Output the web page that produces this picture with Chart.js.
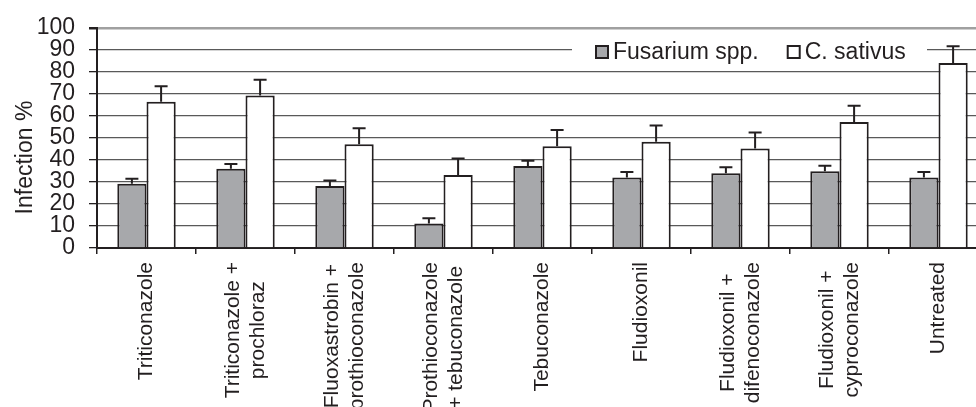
<!DOCTYPE html>
<html>
<head>
<meta charset="utf-8">
<script src="https://cdn.jsdelivr.net/npm/chart.js@4.4.0/dist/chart.umd.min.js"></script>
<style>
  html, body { margin: 0; padding: 0; background: #fff; }
  #wrap { width: 976px; height: 407px; overflow: hidden; }
  #chart { display: block; }
</style>
</head>
<body>
<div id="wrap"><canvas id="chart" width="1000" height="407"></canvas></div>
<script>
// Catégories (traitements)
const categories = [
    'Triticonazole',
    ['Triticonazole +', 'prochloraz'],
    ['Fluoxastrobin +', 'prothioconazole'],
    ['Prothioconazole', '+ tebuconazole'],
    'Tebuconazole',
    'Fludioxonil',
    ['Fludioxonil +', 'difenoconazole'],
    ['Fludioxonil +', 'cyproconazole'],
    'Untreated'
];
const seriesNames = ['Fusarium spp.', 'C. sativus'];
const fusarium = [29.2, 36, 28.1, 11.1, 37.2, 32, 34, 34.9, 32];
const fusariumErr = [2.3, 2.2, 2.5, 2.4, 2.4, 2.5, 2.7, 2.5, 2.5];
const sativus = [66.4, 69.2, 47.1, 33.2, 46.2, 48.3, 45.2, 57.2, 84];
const sativusErr = [7.1, 7.2, 7.3, 7.4, 7.4, 7.3, 7.2, 7.4, 7.6];
const yTicks = [0, 10, 20, 30, 40, 50, 60, 70, 80, 90, 100];

const ink = '#231f20';
const greyFill = '#a7a8ab';
const fontFamily = '"Liberation Sans", Arial, sans-serif';
const errors = [fusariumErr, sativusErr];

// Barres d'erreur (vers le haut uniquement)
const errorBars = {
    id: 'errorBars',
    afterDatasetsDraw(chart) {
        const { ctx } = chart;
        const y = chart.scales.y;
        ctx.save();
        ctx.strokeStyle = ink;
        ctx.lineWidth = 2;
        chart.data.datasets.forEach((ds, di) => {
            chart.getDatasetMeta(di).data.forEach((bar, i) => {
                const top = y.getPixelForValue(ds.data[i] + errors[di][i]);
                ctx.beginPath();
                ctx.moveTo(bar.x, bar.y);
                ctx.lineTo(bar.x, top);
                ctx.moveTo(bar.x - 6.5, top);
                ctx.lineTo(bar.x + 6.5, top);
                ctx.stroke();
            });
        });
        ctx.restore();
    }
};

// Étiquettes de l'axe X, pivotées, lignes centrées
const xLabels = {
    id: 'xLabels',
    afterDraw(chart) {
        const { ctx } = chart;
        const x = chart.scales.x;
        const lineH = 25;
        ctx.save();
        ctx.font = '21px ' + fontFamily;
        ctx.fillStyle = ink;
        ctx.textAlign = 'center';
        ctx.textBaseline = 'middle';
        categories.forEach((lab, i) => {
            const lines = Array.isArray(lab) ? lab : [lab];
            const w = Math.max(...lines.map(l => ctx.measureText(l).width));
            const cx = x.getPixelForValue(i);
            lines.forEach((line, k) => {
                ctx.save();
                ctx.translate(cx + (k - (lines.length - 1) / 2) * lineH, x.top + 14 + w / 2);
                ctx.rotate(-Math.PI / 2);
                ctx.fillText(line, 0, 0);
                ctx.restore();
            });
        });
        ctx.restore();
    }
};

// Titre de l'axe Y + légende dans la zone du graphique
const extras = {
    id: 'extras',
    afterDraw(chart) {
        const { ctx } = chart;
        ctx.save();
        ctx.font = '23px ' + fontFamily;
        ctx.fillStyle = ink;
        ctx.textAlign = 'center';
        ctx.textBaseline = 'alphabetic';
        ctx.translate(32, 157.5);
        ctx.rotate(-Math.PI / 2);
        ctx.fillText('Infection %', 0, 0);
        ctx.restore();

        ctx.save();
        ctx.fillStyle = '#fff';
        ctx.fillRect(572, 35, 355, 27);
        ctx.font = '23px ' + fontFamily;
        ctx.textBaseline = 'middle';
        ctx.textAlign = 'left';
        let px = 596;
        chart.data.datasets.forEach((ds) => {
            ctx.fillStyle = ds.backgroundColor;
            ctx.fillRect(px, 46, 12, 12);
            ctx.strokeStyle = ink;
            ctx.lineWidth = 2;
            ctx.strokeRect(px, 46, 12, 12);
            ctx.fillStyle = ink;
            ctx.fillText(ds.label, px + 17, 52.5);
            px += 17 + ctx.measureText(ds.label).width + 29;
        });
        ctx.restore();
    }
};

new Chart(document.getElementById('chart'), {
    type: 'bar',
    data: {
        labels: categories,
        datasets: [
            { label: seriesNames[0], data: fusarium, backgroundColor: greyFill, borderColor: ink, borderWidth: 2 },
            { label: seriesNames[1], data: sativus, backgroundColor: '#ffffff', borderColor: ink, borderWidth: 2 }
        ]
    },
    options: {
        responsive: false,
        animation: false,
        layout: { padding: { top: 23, right: 12, left: 0, bottom: 0 } },
        datasets: { bar: { categoryPercentage: 0.59, barPercentage: 1 } },
        plugins: {
            legend: { display: false },
            tooltip: { enabled: false }
        },
        scales: {
            x: {
                afterFit(scale) { scale.height = 159; },
                ticks: { display: false, autoSkip: false },
                grid: { display: true, offset: true, drawOnChartArea: false, drawTicks: true, tickLength: 6, color: ink, lineWidth: 1.5 },
                border: { display: true, color: ink, width: 2 }
            },
            y: {
                min: 0,
                max: 100,
                afterFit(scale) { scale.width = 97; },
                afterBuildTicks(scale) { scale.ticks = yTicks.map(v => ({ value: v })); },
                ticks: { color: ink, padding: 14, autoSkip: false, font: { family: fontFamily, size: 23 } },
                grid: {
                    color: (c) => c.tick && c.tick.value === 100 ? '#a0a0a0' : '#595959',
                    lineWidth: (c) => c.tick && c.tick.value === 100 ? 2.5 : 1.3,
                    tickColor: ink,
                    tickLength: 8
                },
                border: { display: true, color: ink, width: 2 }
            }
        }
    },
    plugins: [errorBars, xLabels, extras]
});
</script>
</body>
</html>
